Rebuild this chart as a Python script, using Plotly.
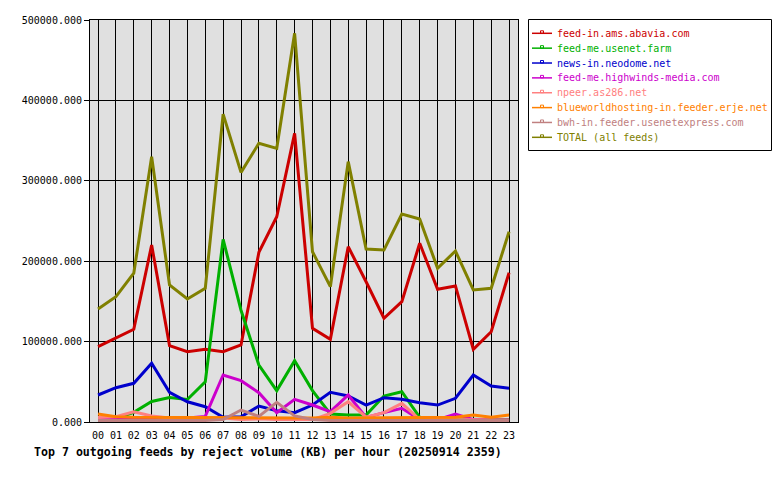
import plotly.graph_objects as go

hours = ["00", "01", "02", "03", "04", "05", "06", "07", "08", "09", "10", "11",
         "12", "13", "14", "15", "16", "17", "18", "19", "20", "21", "22", "23"]

feed_names = [
    "feed-in.ams.abavia.com",
    "feed-me.usenet.farm",
    "news-in.neodome.net",
    "feed-me.highwinds-media.com",
    "npeer.as286.net",
    "blueworldhosting-in.feeder.erje.net",
    "bwh-in.feeder.usenetexpress.com",
    "TOTAL (all feeds)",
]

abavia = [93700, 104000, 115300, 220100, 95000, 87400, 90400, 87400, 95800, 211000, 255300, 359000,
          116500, 102800, 218000, 174500, 129000, 149600, 222300, 165000, 169200, 90400, 112300, 185700]
usenet_farm = [5000, 4500, 12000, 25500, 30500, 28000, 50100, 227200, 139000, 70900, 39000, 76200,
               39000, 10000, 8700, 8700, 32300, 37700, 5800, 4000, 3500, 3000, 3000, 3000]
neodome = [33600, 42700, 48100, 73000, 36900, 25200, 19000, 5800, 6600, 19900, 14100, 11600,
           21100, 36900, 32300, 21100, 30200, 28200, 24000, 21100, 29500, 58500, 44800, 41900]
highwinds = [3000, 3000, 3000, 6000, 5500, 5000, 7000, 58500, 51400, 36400, 11600, 28200,
             21100, 12800, 33600, 5800, 11600, 17000, 3000, 3000, 10000, 3000, 2500, 2500]
as286 = [5500, 6500, 12800, 7500, 5000, 5000, 5000, 5000, 3000, 4000, 3000, 3000,
         3000, 10800, 25200, 6000, 11600, 23200, 3000, 3000, 3000, 3000, 2500, 2500]
blueworld = [10000, 6600, 6000, 5800, 5800, 5800, 5800, 5000, 5000, 5000, 5000, 5000,
             5000, 5800, 5000, 5000, 5800, 5000, 5000, 5000, 5800, 8700, 6000, 8700]
usenetexpress = [2000, 2000, 2000, 2000, 2000, 2000, 2000, 3000, 14900, 7000, 24500, 7500,
                 3000, 2000, 2000, 2000, 2000, 2000, 2000, 2000, 2000, 2000, 2000, 2000]
total = [140500, 155800, 185000, 330000, 170400, 153000, 166300, 383000, 310500, 346600, 340400, 483400,
         211800, 168300, 323800, 215200, 214000, 258700, 252500, 191200, 212700, 164200, 166300, 236700]

series = [abavia, usenet_farm, neodome, highwinds, as286, blueworld, usenetexpress, total]
colors = ["#cc0000", "#00b000", "#0000cc", "#cc00cc", "#ff8080", "#ff8000", "#c08080", "#808000"]

x_vals = list(range(len(hours)))

# layout geometry (pixels)
W, H = 780, 480
ML, MR, MT, MB = 90, 262, 20, 58
PW, PH = W - ML - MR, H - MT - MB


def px2x(px):
    return (px - ML) / PW


def py2y(py):
    return (H - MB - py) / PH


fig = go.Figure()
for name, vals, col in zip(feed_names, series, colors):
    fig.add_trace(go.Scatter(
        x=x_vals, y=vals, name=name,
        mode="lines",
        line=dict(color=col, width=3),
        showlegend=False,
    ))

mono = "DejaVu Sans Mono"

shapes = []
annotations = []
# legend box
shapes.append(dict(type="rect", xref="paper", yref="paper",
                   x0=px2x(528.5), x1=px2x(771.5), y0=py2y(19.5), y1=py2y(150.5),
                   line=dict(color="black", width=1), fillcolor="white", layer="above"))
for i, (name, col) in enumerate(zip(feed_names, colors)):
    cy = 33.3 + i * 14.86
    shapes.append(dict(type="line", xref="paper", yref="paper",
                       x0=px2x(532), x1=px2x(552), y0=py2y(cy), y1=py2y(cy),
                       line=dict(color=col, width=1.5), layer="above"))
    shapes.append(dict(type="rect", xref="paper", yref="paper",
                       x0=px2x(540.5), x1=px2x(543.5), y0=py2y(cy - 2.5), y1=py2y(cy),
                       line=dict(color=col, width=1), fillcolor="rgba(0,0,0,0)", layer="above"))
    annotations.append(dict(text=name, xref="paper", yref="paper",
                            x=px2x(554.5), y=py2y(cy), xanchor="left", yanchor="middle",
                            showarrow=False, font=dict(family=mono, size=10, color=col)))

annotations.append(dict(
    text="<b>Top 7 outgoing feeds by reject volume (KB) per hour (20250914 2359)</b>",
    xref="paper", yref="paper", x=px2x(267.5), y=py2y(452),
    xanchor="center", yanchor="middle", showarrow=False,
    font=dict(family=mono, size=11.6, color="black"),
))

fig.update_layout(
    width=W, height=H,
    margin=dict(l=ML, r=MR, t=MT, b=MB),
    paper_bgcolor="white",
    plot_bgcolor="#e0e0e0",
    font=dict(family=mono, size=10, color="black"),
    showlegend=False,
    shapes=shapes,
    annotations=annotations,
)
fig.update_xaxes(
    range=[-0.45, 23.5],
    tickvals=x_vals, ticktext=hours,
    showgrid=True, gridcolor="black", gridwidth=1,
    zeroline=False,
    showline=True, linecolor="black", linewidth=1, mirror=True,
    ticks="outside", ticklen=4, tickcolor="rgba(0,0,0,0)",
    tickfont=dict(family=mono, size=10),
)
fig.update_yaxes(
    range=[0, 500000],
    tickvals=[0, 100000, 200000, 300000, 400000, 500000],
    tickformat=".3f",
    showgrid=True, gridcolor="black", gridwidth=1,
    zeroline=False,
    showline=True, linecolor="black", linewidth=1, mirror=True,
    ticks="outside", ticklen=5, tickcolor="black",
    tickfont=dict(family=mono, size=10),
)

fig.write_html("out.html")
